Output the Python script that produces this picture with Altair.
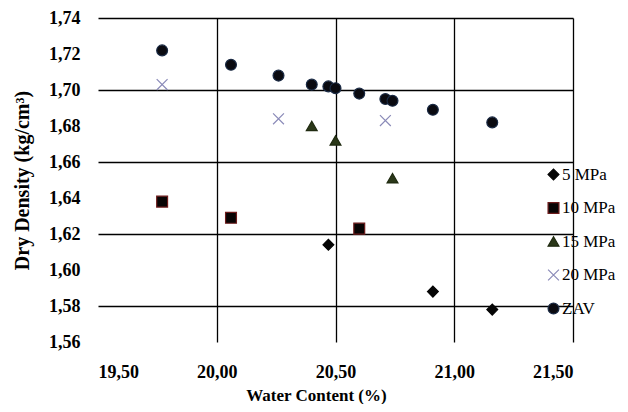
import altair as alt
import pandas as pd

series_names = ["5 MPa", "10 MPa", "15 MPa", "20 MPa", "ZAV"]

water_5 = [20.47, 20.91, 21.16]
dens_5 = [1.614, 1.588, 1.578]
water_10 = [19.77, 20.06, 20.60]
dens_10 = [1.638, 1.629, 1.623]
water_15 = [20.40, 20.50, 20.74]
dens_15 = [1.680, 1.672, 1.651]
water_20 = [19.77, 20.26, 20.71]
dens_20 = [1.703, 1.684, 1.683]
water_zav = [19.77, 20.06, 20.26, 20.40, 20.47, 20.50, 20.60, 20.71, 20.74, 20.91, 21.16]
dens_zav = [1.722, 1.714, 1.708, 1.703, 1.702, 1.701, 1.698, 1.695, 1.694, 1.689, 1.682]

x_ticks = [19.5, 20.0, 20.5, 21.0, 21.5]
y_ticks = [1.56, 1.58, 1.60, 1.62, 1.64, 1.66, 1.68, 1.70, 1.72, 1.74]

rows = []
for name, xs, ys in zip(series_names,
                        [water_5, water_10, water_15, water_20, water_zav],
                        [dens_5, dens_10, dens_15, dens_20, dens_zav]):
    for a, b in zip(xs, ys):
        rows.append({"series": name, "water": a, "density": b})
df = pd.DataFrame(rows)

x_path = "M-1,-1L1,1M-1,1L1,-1"
shapes = ["diamond", "square", "triangle-up", x_path, "circle"]
fills = ["#050505", "#080404", "#2b3819", "#ffffff", "#0a0a10"]
strokes = ["#050505", "#6e1c1c", "#1f2a10", "#8a8ab8", "#1a2a44"]

FONT = "Liberation Serif"
fmt = "replace(format(datum.value, '.2f'), '.', ',')"


def legend():
    return alt.Legend(title=None, orient="none", legendX=447, legendY=148,
                      labelFont=FONT, labelFontSize=17, labelColor="black",
                      labelOffset=0, rowPadding=15.5, padding=0,
                      symbolSize=118, symbolStrokeWidth=1.2)


chart = alt.Chart(df).mark_point(filled=False, size=118, strokeWidth=1.2, opacity=1).encode(
    x=alt.X("water:Q",
            scale=alt.Scale(domain=[19.5, 21.5], nice=False, zero=False),
            axis=alt.Axis(values=x_ticks, labelExpr=fmt, title="Water Content (%)",
                          domain=False, ticks=False, labelPadding=30,
                          labelBaseline="middle",
                          titleX=218, titleY=58, titleFontSize=17,
                          titleBaseline="alphabetic",
                          gridOpacity={"condition": {"test": "datum.value > 19.6", "value": 1}, "value": 0})),
    y=alt.Y("density:Q",
            scale=alt.Scale(domain=[1.56, 1.74], nice=False, zero=False),
            axis=alt.Axis(values=y_ticks, labelExpr=fmt, title="Dry Density (kg/cm³)",
                          domain=False, ticks=False, labelPadding=18,
                          titleX=-76, titleY=162, titleFontSize=20,
                          titleBaseline="middle", titleAngle=-90,
                          gridOpacity={"condition": {"test": "round(datum.value * 100) % 4 == 2", "value": 1}, "value": 0})),
    shape=alt.Shape("series:N", scale=alt.Scale(domain=series_names, range=shapes), legend=legend()),
    fill=alt.Fill("series:N", scale=alt.Scale(domain=series_names, range=fills), legend=legend()),
    stroke=alt.Stroke("series:N", scale=alt.Scale(domain=series_names, range=strokes), legend=legend()),
).properties(
    width=475, height=324,
    autosize=alt.AutoSizeParams(type="none"),
    padding={"left": 90, "top": 10, "right": 47, "bottom": 62},
    background="white",
).configure(
    font=FONT,
).configure_axis(
    labelFont=FONT, labelFontSize=18, labelFontWeight="bold", labelColor="black",
    titleFont=FONT, titleFontWeight="bold", titleColor="black",
    grid=True, gridColor="black", gridWidth=1.3,
).configure_legend(
    labelFont=FONT, labelFontSize=17, labelColor="black",
).configure_view(stroke=None)

chart.save("out.html", embed_options={"renderer": "svg", "actions": False})
